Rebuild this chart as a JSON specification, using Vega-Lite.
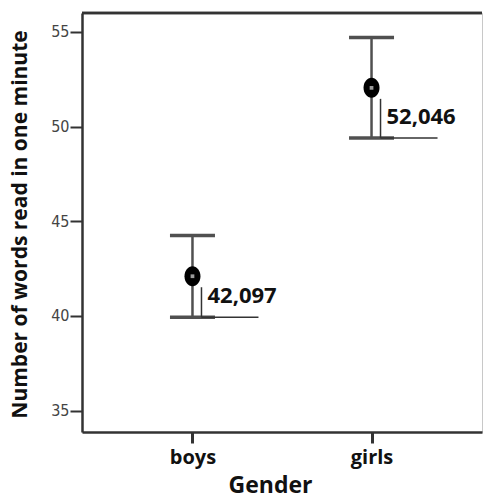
{
  "$schema": "https://vega.github.io/schema/vega-lite/v6.json",
  "width": 400,
  "height": 419,
  "autosize": "none",
  "padding": {"left": 82, "top": 13, "right": 1, "bottom": 66},
  "background": "white",
  "config": {"view": {"stroke": "#c8c8c8", "strokeWidth": 1}, "font": "Open Sans"},
  "data": {"values": [
    {"gender": "boys", "mean": 42.097, "lower": 39.93, "upper": 44.25, "label": "42,097"},
    {"gender": "girls", "mean": 52.046, "lower": 49.40, "upper": 54.70, "label": "52,046"}
  ]},
  "layer": [
    {
      "mark": {"type": "rule", "color": "#333", "strokeWidth": 2.5},
      "encoding": {"y": {"datum": 56.0, "type": "quantitative"}}
    },
    {
      "mark": {"type": "rule", "color": "#505050", "strokeWidth": 2.5},
      "encoding": {
        "x": {
          "field": "gender", "type": "nominal",
          "scale": {"type": "point", "padding": 0.617, "domain": ["boys", "girls"]},
          "axis": {
            "title": "Gender", "labelAngle": 0,
            "labelFont": "Open Sans", "labelFontWeight": "bold", "labelFontSize": 20, "labelColor": "#111",
            "labelPadding": 4, "tickSize": 11, "tickWidth": 3, "tickColor": "#333",
            "domainColor": "#333", "domainWidth": 2.5,
            "titleFont": "Open Sans", "titleFontSize": 23, "titleFontWeight": "bold", "titleColor": "#111",
            "titleX": 188, "titleY": 53, "titleBaseline": "middle"
          }
        },
        "y": {
          "field": "lower", "type": "quantitative",
          "scale": {"domain": [33.87, 56.0], "nice": false, "zero": false},
          "axis": {
            "title": "Number of words read in one minute", "values": [35, 40, 45, 50, 55], "grid": false,
            "labelFont": "DejaVu Sans Condensed", "labelFontSize": 16, "labelColor": "#444", "labelPadding": 1,
            "tickSize": 12, "tickWidth": 2, "tickColor": "#333",
            "domainColor": "#333", "domainWidth": 2.5,
            "titleFont": "Open Sans", "titleFontSize": 21, "titleFontWeight": "bold", "titleColor": "#111",
            "titleX": -62, "titleY": 211, "titleBaseline": "middle"
          }
        },
        "y2": {"field": "upper"}
      }
    },
    {
      "mark": {"type": "tick", "color": "#505050", "size": 45, "thickness": 3.5, "opacity": 1},
      "encoding": {"x": {"field": "gender", "type": "nominal"}, "y": {"field": "upper", "type": "quantitative"}}
    },
    {
      "mark": {"type": "tick", "color": "#505050", "size": 45, "thickness": 3.5, "opacity": 1},
      "encoding": {"x": {"field": "gender", "type": "nominal"}, "y": {"field": "lower", "type": "quantitative"}}
    },
    {
      "mark": {"type": "point", "shape": "M -0.8 0 A 0.8 1 0 1 0 0.8 0 A 0.8 1 0 1 0 -0.8 0 Z", "size": 400, "filled": true, "color": "#000", "opacity": 1},
      "encoding": {"x": {"field": "gender", "type": "nominal"}, "y": {"field": "mean", "type": "quantitative"}}
    },
    {
      "mark": {"type": "point", "shape": "square", "size": 14, "filled": true, "color": "#9a9a9a", "opacity": 1},
      "encoding": {"x": {"field": "gender", "type": "nominal"}, "y": {"field": "mean", "type": "quantitative"}}
    },
    {
      "mark": {"type": "rule", "color": "#333", "strokeWidth": 1.5, "xOffset": 9, "yOffset": 11, "y2Offset": 0},
      "encoding": {
        "x": {"field": "gender", "type": "nominal"},
        "y": {"field": "mean", "type": "quantitative"},
        "y2": {"field": "lower"}
      }
    },
    {
      "mark": {"type": "rule", "color": "#333", "strokeWidth": 1.5, "xOffset": 9, "x2Offset": 66},
      "encoding": {
        "x": {"field": "gender", "type": "nominal"},
        "x2": {"field": "gender"},
        "y": {"field": "lower", "type": "quantitative"}
      }
    },
    {
      "mark": {"type": "text", "align": "left", "baseline": "middle", "dx": 15, "dy": -21, "font": "Open Sans", "fontWeight": "bold", "fontSize": 22, "color": "#111"},
      "encoding": {
        "x": {"field": "gender", "type": "nominal"},
        "y": {"field": "lower", "type": "quantitative"},
        "text": {"field": "label"}
      }
    }
  ]
}
